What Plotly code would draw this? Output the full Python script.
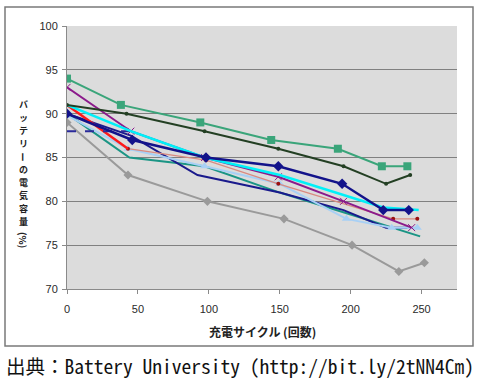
import plotly.graph_objects as go

# ---- data ----
green_x = [0, 38, 94, 144, 191, 222, 240]
green_y = [94, 91, 89, 87, 86, 84, 84]
dkgreen_x = [0, 42, 97, 149, 195, 225, 242]
dkgreen_y = [91, 90, 88, 86, 84, 82, 83]
gray_x = [0, 43, 99, 153, 201, 234, 252]
gray_y = [89, 83, 80, 78, 75, 72, 73]
navyd_x = [0, 46, 98, 149, 194, 223, 241]
navyd_y = [90, 87, 85, 84, 82, 79, 79]
cyan_x = [0, 45, 97, 150, 223, 248]
cyan_y = [91, 88, 85, 83, 79.3, 79]
purple_x = [0, 45, 97, 149, 195, 243]
purple_y = [93, 88, 85, 82.8, 80, 77]
red_x = [0, 43]
red_y = [91, 86]
salmon_x = [43, 98, 149, 230, 247]
salmon_y = [86, 84.7, 82, 78, 78]
teal_x = [0, 44, 97, 150, 200, 249]
teal_y = [90, 85, 84, 81, 78.5, 76]
ltblue_x = [0, 43, 97, 150, 197, 229, 247]
ltblue_y = [89.8, 86, 84, 82, 78, 77, 77]
navy_x = [0, 45, 92, 150, 195, 225, 240]
navy_y = [90, 87.5, 83, 81, 79, 77, 77]
dash_x = [0, 45]
dash_y = [88, 88]

x_ticks = [0, 50, 100, 150, 200, 250]
y_ticks = [70, 75, 80, 85, 90, 95, 100]

x_title = "充電サイクル (回数)"
y_title = "バッテリーの電気容量"
y_unit = "(%)"
source = "出典：Battery University (http://bit.ly/2tNN4Cm)"

fig = go.Figure()

def add(x, y, color, width=2, symbol=None, msize=7, dash=None, mcolor=None):
    mode = "lines+markers" if symbol else "lines"
    fig.add_trace(go.Scatter(
        x=x, y=y, mode=mode,
        line=dict(color=color, width=width, dash=dash),
        marker=dict(symbol=symbol or "circle", size=msize, color=mcolor or color),
        showlegend=False, hoverinfo="skip"))

add(gray_x, gray_y, "#9a9a9a", 2, "diamond", 7)
add(teal_x, teal_y, "#1b9585", 2)
add(navy_x, navy_y, "#1a1a8c", 2)
add(ltblue_x, ltblue_y, "#a8d0f5", 2, "triangle-up", 8)
add(salmon_x, salmon_y, "#d98a80", 1.3, "circle", 4, mcolor="#9b1010")
add(red_x, red_y, "#ff1a1a", 2.5)
add(dash_x, dash_y, "#2a2a9a", 2, dash="dash")
add(purple_x, purple_y, "#8b1a8b", 2, "x-thin-open", 7)
add(cyan_x, cyan_y, "#00f0f8", 2.5)
add(navyd_x, navyd_y, "#12128a", 2.5, "diamond", 8)
add(dkgreen_x, dkgreen_y, "#233f23", 2, "circle", 4)
add(green_x, green_y, "#3aa57a", 2, "square", 8)

L, R, T, B = 67, 457, 26, 289
W, H = R - L, B - T

def px(xp):
    return (xp - L) / W

def py(yp):
    return (B - yp) / H

fig.update_layout(
    width=479, height=380,
    margin=dict(l=L, r=479 - R, t=T, b=380 - B),
    paper_bgcolor="white",
    plot_bgcolor="#dcdcdc",
    font=dict(family="Liberation Sans, Arial, sans-serif", size=11, color="#2a2a2a"),
    xaxis=dict(range=[0, 275], tickvals=x_ticks, showgrid=False, zeroline=False,
               showline=True, linecolor="#8a8a8a", linewidth=1,
               ticks="outside", ticklen=4, tickcolor="#8a8a8a",
               ticklabelstandoff=6),
    yaxis=dict(range=[70, 100], tickvals=y_ticks, showgrid=True, gridcolor="#808080",
               gridwidth=1, zeroline=False, showline=True, linecolor="#8a8a8a",
               linewidth=1, ticks="outside", ticklen=4, tickcolor="#8a8a8a",
               ticklabelstandoff=2),
)

# outer frame
fig.add_shape(type="rect", xref="paper", yref="paper",
              x0=px(5), x1=px(473), y0=py(346), y1=py(7),
              line=dict(color="#7a7a7a", width=1.5), layer="below")

# x-axis title
fig.add_annotation(text="<b>" + x_title + "</b>", xref="paper", yref="paper",
                   x=px(262), y=py(331), showarrow=False,
                   xanchor="center", yanchor="middle",
                   font=dict(family="Noto Sans CJK JP", size=12, color="#222222"))

# y-axis title (vertical, upright characters)
for i, ch in enumerate(y_title):
    fig.add_annotation(text="<b>" + ch + "</b>", xref="paper", yref="paper",
                       x=px(23), y=py(104 + i * 13.1), showarrow=False,
                       xanchor="center", yanchor="middle",
                       textangle=90 if ch == "ー" else 0, borderpad=0,
                       font=dict(family="Noto Sans CJK JP", size=9, color="#222222"))
fig.add_annotation(text="<b>" + y_unit + "</b>", xref="paper", yref="paper", textangle=90,
                   x=px(23), y=py(240), showarrow=False, borderpad=0,
                   xanchor="center", yanchor="middle",
                   font=dict(family="Noto Sans CJK JP", size=9.5, color="#222222"))

# source
fig.add_annotation(text=source, xref="paper", yref="paper",
                   xanchor="left", yanchor="middle",
                   x=px(4), y=py(365), showarrow=False,
                   font=dict(family="Noto Sans Mono CJK JP, DejaVu Sans Mono, monospace",
                             size=19.5, color="#111111"))

fig.write_html("out.html", config={"displayModeBar": False},
               post_script="document.body.style.margin='0';")
